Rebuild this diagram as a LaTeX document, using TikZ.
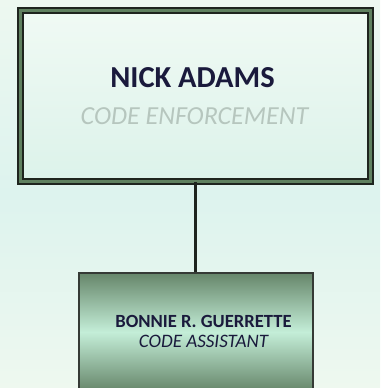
\documentclass[tikz,border=0pt]{standalone}
\usepackage{fontspec}
\setmainfont{Carlito}
\usetikzlibrary{positioning}

\definecolor{bgtop}{HTML}{EDF8F0}
\definecolor{bgmid}{HTML}{DDF3EE}
\definecolor{bgbot}{HTML}{EEF8EF}
\definecolor{frame}{HTML}{1E241E}
\definecolor{band}{HTML}{5F805F}
\definecolor{headtop}{HTML}{F0FAF4}
\definecolor{headbot}{HTML}{DCF2EA}
\definecolor{staffdark}{HTML}{66866A}
\definecolor{stafflight}{HTML}{C4EED8}
\definecolor{navy}{HTML}{1A1A3C}
\definecolor{faded}{HTML}{B6C6BE}

\tikzset{
    headbox/.style={draw=frame, line width=1.6pt, double=band, double distance=3.5pt,
        top color=headtop, bottom color=headbot, minimum width=350pt, minimum height=171pt, inner sep=0pt},
    staffbox/.style={draw=frame!90, line width=2pt, top color=staffdark, bottom color=staffdark,
        middle color=stafflight, minimum width=234pt, minimum height=118pt, inner sep=0pt},
    label/.style={anchor=base, inner sep=0pt}
}

\begin{document}
\begin{tikzpicture}[x=1pt, y=-1pt]

    \useasboundingbox (0,0) rectangle (380,388);
    \shade[top color=bgtop, bottom color=bgbot, middle color=bgmid] (0,0) rectangle (380,388);

    \node[headbox] (head) at (195.5,96) {};
    \node[staffbox] (staff) at (195.5,332) {};

    \draw[frame, line width=2.2pt] (head.south) -- (staff.north);

    \node[label, text=navy, font=\fontsize{30.5}{32}\selectfont\bfseries] (headname) at (192.5,87) {NICK ADAMS};
    \node[label, text=faded, font=\fontsize{26}{28}\selectfont\itshape] (headrole) at (194.5,124) {CODE ENFORCEMENT};

    \node[label, text=navy, font=\fontsize{18.6}{20}\selectfont\bfseries] (staffname) at (203.5,327) {BONNIE R. GUERRETTE};
    \node[label, text=navy, font=\fontsize{19}{21}\selectfont\itshape] (staffrole) at (203.5,347) {CODE ASSISTANT};

\end{tikzpicture}
\end{document}
